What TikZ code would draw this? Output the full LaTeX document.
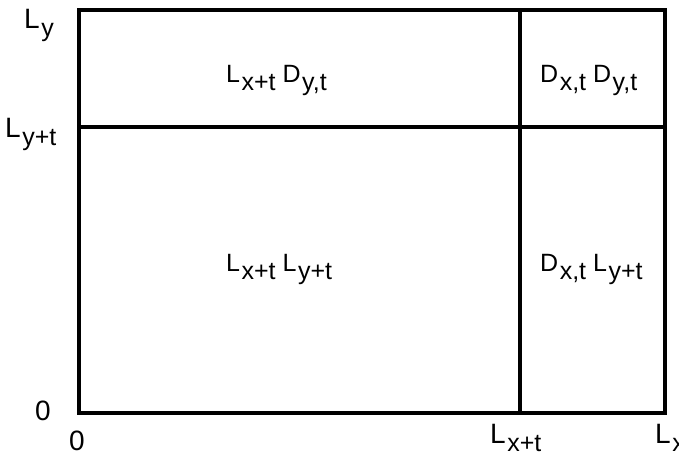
\documentclass[tikz,border=0pt]{standalone}
\usepackage{fontspec}
\setmainfont{Liberation Sans}
\newcommand{\sbx}[1]{\kern1.5pt\raisebox{-8pt}{\fontsize{25}{25}\selectfont #1}}
\begin{document}
\begin{tikzpicture}[x=1pt,y=-1pt,
  frame/.style={line width=4pt, line join=miter, line cap=rect},
  inlbl/.style={inner sep=0pt, font=\fontsize{25}{25}\selectfont},
  axlbl/.style={inner sep=0pt, font=\fontsize{28}{28}\selectfont}]
\useasboundingbox (0,0) rectangle (679,456);
\coordinate (bl) at (79,413);
\coordinate (tr) at (665,10);
\coordinate (vt) at (520,10);
\coordinate (vb) at (520,413);
\coordinate (hl) at (79,127);
\coordinate (hr) at (665,127);
\draw[frame] (bl) rectangle (tr);
\draw[frame] (vt) -- (vb);
\draw[frame] (hl) -- (hr);
% cell labels
\node[inlbl, anchor=base west] (c1) at (226,82) {L\sbx{x+t}\ D\sbx{y,t}};
\node[inlbl, anchor=base west] (c2) at (540,82) {D\sbx{x,t}\ D\sbx{y,t}};
\node[inlbl, anchor=base west] (c3) at (226,271) {L\sbx{x+t}\ L\sbx{y+t}};
\node[inlbl, anchor=base west] (c4) at (540,271) {D\sbx{x,t}\ L\sbx{y+t}};
% axis labels
\node[axlbl, anchor=base west] (ly) at (24,28) {L\sbx{y}};
\node[axlbl, anchor=base west] (lyt) at (5,137) {L\sbx{y+t}};
\node[axlbl, anchor=base] (z1) at (43,420) {0};
\node[axlbl, anchor=base] (z2) at (77,450) {0};
\node[axlbl, anchor=base west] (lxt) at (490,443) {L\sbx{x+t}};
\node[axlbl, anchor=base west] (lx) at (655,443) {L\sbx{x}};
\end{tikzpicture}
\end{document}
